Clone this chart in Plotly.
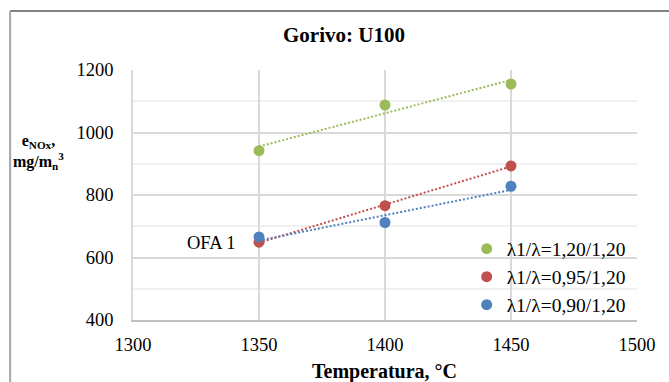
import numpy as np
import plotly.graph_objects as go

# Data
temperature = [1350, 1400, 1450]
series_names = ["λ1/λ=1,20/1,20", "λ1/λ=0,95/1,20", "λ1/λ=0,90/1,20"]
enox_120_120 = [942, 1088, 1155]
enox_095_120 = [649, 766, 893]
enox_090_120 = [666, 712, 828]
colors = ["#9BBB59", "#C0504D", "#4F81BD"]

x_ticks = [1300, 1350, 1400, 1450, 1500]
y_ticks = [400, 600, 800, 1000, 1200]

FONT = "Liberation Serif"
W, H = 669, 382
ML, MR, MT, MB = 133, 31.5, 70, 62
PW = W - ML - MR
PH = H - MT - MB

fig = go.Figure()

all_series = [enox_120_120, enox_095_120, enox_090_120]

# Linear trend lines (dotted, like Excel trendlines)
for vals, col in zip(all_series, colors):
    k, b = np.polyfit(temperature, vals, 1)
    xs = [temperature[0], temperature[-1]]
    fig.add_trace(go.Scatter(
        x=xs, y=[k * xx + b for xx in xs], mode="lines",
        line=dict(color=col, width=2, dash="2px,2px"),
        showlegend=False, hoverinfo="skip"))

def px_to_paper_x(px):
    return (px - ML) / PW

def px_to_paper_y(py):
    return (H - MB - py) / PH

legend_names = ["legend", "legend2", "legend3"]
legend_rows_px = [249, 277, 305]

# Data points
for vals, col, name, lg in zip(all_series, colors, series_names, legend_names):
    fig.add_trace(go.Scatter(
        x=temperature, y=vals, mode="markers", name=name,
        marker=dict(color=col, size=11), legend=lg))

legend_common = dict(xanchor="left", yanchor="middle", bgcolor="rgba(0,0,0,0)",
                     font=dict(family=FONT, size=19.5, color="#000"),
                     borderwidth=0)

annotations = [
    dict(text="<b>Gorivo: U100</b>", x=px_to_paper_x(344.5), y=px_to_paper_y(35),
         xref="paper", yref="paper", showarrow=False,
         font=dict(family=FONT, size=21, color="#000"), xanchor="center", yanchor="middle"),
    dict(text="<b>Temperatura, °C</b>", x=px_to_paper_x(385), y=px_to_paper_y(371),
         xref="paper", yref="paper", showarrow=False,
         font=dict(family=FONT, size=20, color="#000"), xanchor="center", yanchor="middle"),
    dict(text="<b>e<sub>NOx</sub>,<br>mg/m<sub>n</sub><sup>3</sup></b>",
         x=px_to_paper_x(38), y=px_to_paper_y(152),
         xref="paper", yref="paper", showarrow=False, align="center",
         font=dict(family=FONT, size=16, color="#000"), xanchor="center", yanchor="middle"),
    dict(text="OFA 1", x=px_to_paper_x(212), y=px_to_paper_y(243),
         xref="paper", yref="paper", showarrow=False,
         font=dict(family=FONT, size=18.5, color="#000"), xanchor="center", yanchor="middle"),
]

shapes = [
    dict(type="line", xref="paper", yref="paper",
         x0=px_to_paper_x(10), x1=px_to_paper_x(670), y0=px_to_paper_y(11), y1=px_to_paper_y(11),
         line=dict(color="#595959", width=1.5)),
    dict(type="line", xref="paper", yref="paper",
         x0=px_to_paper_x(10), x1=px_to_paper_x(10), y0=px_to_paper_y(11), y1=px_to_paper_y(383),
         line=dict(color="#A6A6A6", width=2)),
]

layout_legends = {}
for lg, row in zip(legend_names, legend_rows_px):
    layout_legends[lg] = dict(x=px_to_paper_x(467), y=px_to_paper_y(row), **legend_common)

fig.update_layout(
    width=W, height=H, autosize=False,
    margin=dict(l=ML, r=MR, t=MT, b=MB, pad=0),
    paper_bgcolor="white", plot_bgcolor="white",
    font=dict(family=FONT, size=18, color="#000"),
    showlegend=True,
    annotations=annotations,
    shapes=shapes,
    xaxis=dict(range=[1300, 1500], tickmode="array", tickvals=x_ticks,
               ticktext=[str(v) for v in x_ticks],
               showgrid=True, gridcolor="#D9D9D9", gridwidth=1.5,
               showline=True, linecolor="#BFBFBF", linewidth=1.5,
               ticks="", ticklabelstandoff=7, zeroline=False,
               tickfont=dict(family=FONT, size=18.5, color="#000")),
    yaxis=dict(range=[400, 1200], tickmode="array", tickvals=y_ticks,
               ticktext=[str(v) for v in y_ticks],
               showgrid=True, gridcolor="#D9D9D9", gridwidth=1.5,
               minor=dict(dtick=100, tick0=400, showgrid=True, gridcolor="#F0F0F0", gridwidth=1.5),
               showline=True, linecolor="#D9D9D9", linewidth=1.5,
               ticks="", ticklabelstandoff=14, zeroline=False,
               tickfont=dict(family=FONT, size=18.5, color="#000")),
    **layout_legends,
)

fig.write_html("out.html")
